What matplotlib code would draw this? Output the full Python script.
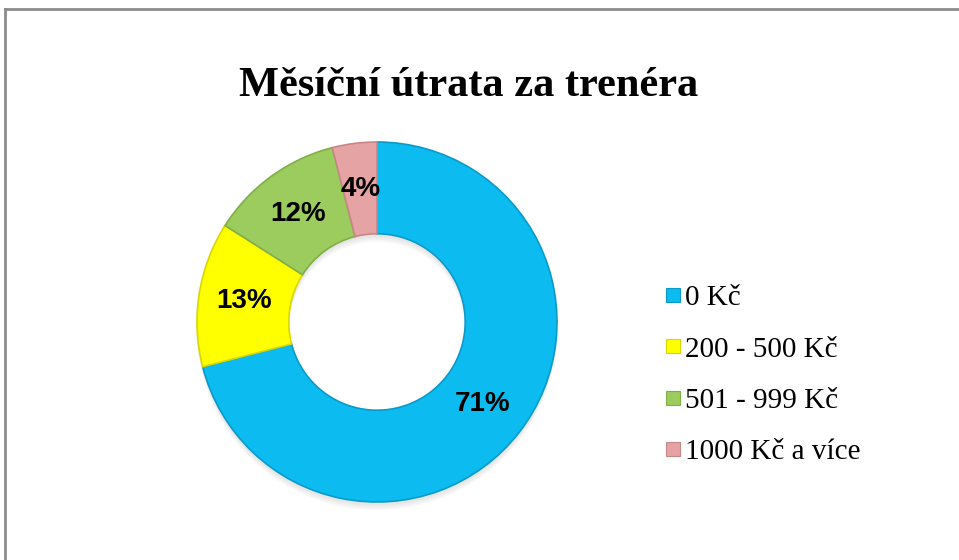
import matplotlib.pyplot as plt
from matplotlib.lines import Line2D

plt.rcParams['font.family'] = ['Liberation Serif', 'DejaVu Serif']

# data
categories = ['0 Kč', '200 - 500 Kč', '501 - 999 Kč', '1000 Kč a více']
shares = [71, 13, 12, 4]
colors = ['#0CBCF0', '#FFFF00', '#9CCB5E', '#E5A3A3']
edge_colors = ['#0A9AC8', '#D8D800', '#7FAF45', '#C98686']
title = 'Měsíční útrata za trenéra'

fig = plt.figure(figsize=(9.59, 5.6), dpi=100)
fig.patch.set_facecolor('white')

# donut axes (square, placed by pixels)
ax = fig.add_axes([197 / 959, 58 / 560, 360 / 959, 360 / 560])

# soft shadow under the ring
for k in range(3):
    ax.pie(shares, radius=1.0, startangle=90, counterclock=False,
           colors=['#606060'] * 4,
           wedgeprops=dict(width=0.51, linewidth=0, alpha=0.05),
           center=(0, -0.02 - 0.012 * k))

wedges, texts, autotexts = ax.pie(
    shares, radius=1.0, startangle=90, counterclock=False,
    colors=colors, autopct='%d%%', pctdistance=0.745,
    wedgeprops=dict(width=0.51, linewidth=1.2),
    textprops=dict(family='Liberation Sans', fontsize=20, fontweight='bold', color='black'))
for w, ec in zip(wedges, edge_colors):
    w.set_edgecolor(ec)

ax.set_xlim(-1, 1)
ax.set_ylim(-1, 1)
ax.set_aspect('equal')
ax.axis('off')

# title
fig.text(0.489, 1 - 86 / 560, title, ha='center', va='center',
         fontsize=30.5, fontweight='bold', color='black')

# legend
handles = [Line2D([], [], marker='s', linestyle='none', markersize=9.5,
                  markerfacecolor=c, markeredgecolor=ec, markeredgewidth=0.8)
           for c, ec in zip(colors, edge_colors)]
fig.legend(handles, categories, loc='upper left',
           bbox_to_anchor=(664 / 959, 1 - 285 / 560),
           frameon=False, fontsize=21, handlelength=0.6, handletextpad=0.12,
           labelspacing=0.85, borderpad=0, borderaxespad=0)

# outer frame (top and left edges visible)
fig.add_artist(Line2D([4.5 / 959, 1], [1 - 9 / 560, 1 - 9 / 560],
                      color='#8C8C8C', linewidth=2.0, transform=fig.transFigure))
fig.add_artist(Line2D([4.5 / 959, 4.5 / 959], [0, 1 - 9 / 560],
                      color='#8C8C8C', linewidth=2.0, transform=fig.transFigure))

fig.savefig('out.png', dpi=100, facecolor='white')
